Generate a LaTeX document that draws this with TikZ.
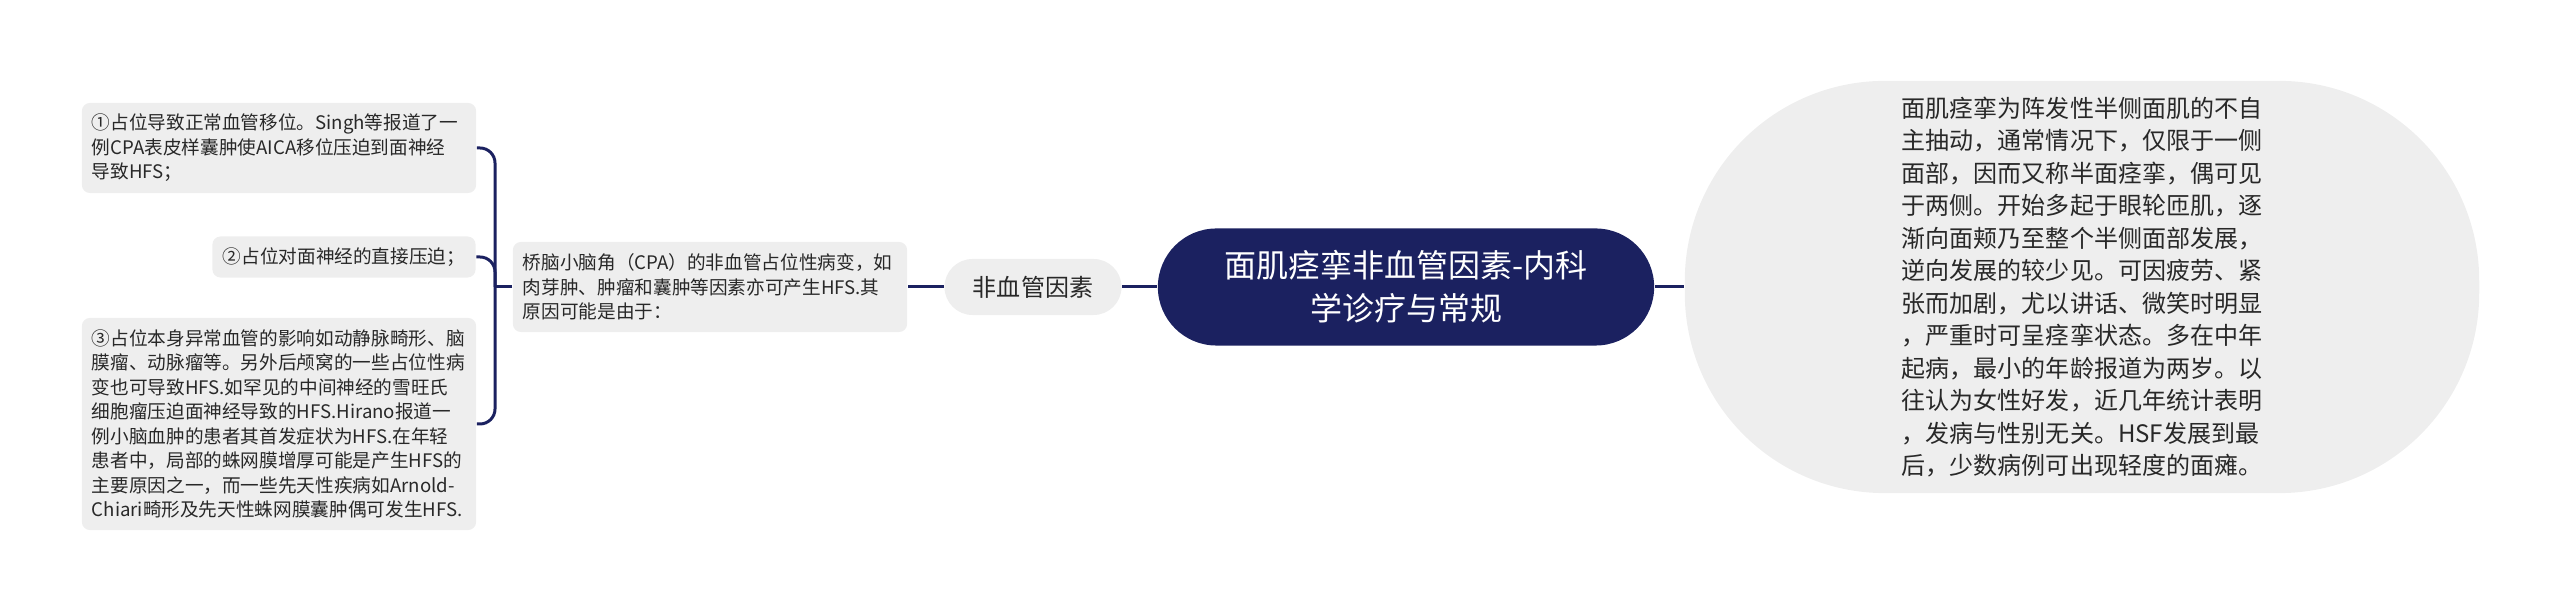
\documentclass[tikz,border=0pt]{standalone}
\usepackage{fontspec}
\setmainfont{Noto Sans CJK SC}
\usepackage{tikz}

\definecolor{navy}{RGB}{27,33,96}
\definecolor{boxgrey}{RGB}{238,238,238}
\definecolor{txtgrey}{RGB}{40,40,40}

\begin{document}
\begin{tikzpicture}[x=0.01cm, y=-0.01cm,
    leaf/.style={fill=boxgrey, rounded corners=0.08cm, text=txtgrey, inner sep=0.1cm, align=left, font=\fontsize{5.3pt}{6.97pt}\selectfont},
    link/.style={draw=navy, line width=0.85pt}]
                \useasboundingbox (0,0) rectangle (2560,613);

                \node[fill=navy, text=white, rounded corners=0.585cm, minimum width=4.96cm, minimum height=1.17cm, align=center, font=\fontsize{9.1pt}{12.2pt}\selectfont] (R) at (1406, 287) {面肌痉挛非血管因素-内科\\学诊疗与常规};
                \node[fill=boxgrey, text=txtgrey, rounded corners=2cm, minimum width=7.94cm, minimum height=4.12cm, align=left, font=\fontsize{6.83pt}{9.25pt}\selectfont] (D) at (2082, 287) {面肌痉挛为阵发性半侧面肌的不自\\主抽动，通常情况下，仅限于一侧\\面部，因而又称半面痉挛，偶可见\\于两侧。开始多起于眼轮匝肌，逐\\渐向面颊乃至整个半侧面部发展，\\逆向发展的较少见。可因疲劳、紧\\张而加剧，尤以讲话、微笑时明显\\，严重时可呈痉挛状态。多在中年\\起病，最小的年龄报道为两岁。以\\往认为女性好发，近几年统计表明\\，发病与性别无关。HSF发展到最\\后，少数病例可出现轻度的面瘫。};
                \node[fill=boxgrey, text=txtgrey, rounded corners=0.28cm, minimum width=1.77cm, minimum height=0.56cm, font=\fontsize{6.83pt}{8.46pt}\selectfont] (F) at (1033, 287) {非血管因素};
                \node[leaf, text width=3.74cm, minimum height=0.9cm] (M) at (710, 287) {桥脑小脑角（CPA）的非血管占位性病变，如\\肉芽肿、肿瘤和囊肿等因素亦可产生HFS.其\\原因可能是由于：};

                \node[leaf, text width=3.74cm, minimum height=0.9cm] (L1) at (279, 148) {①占位导致正常血管移位。Singh等报道了一\\例CPA表皮样囊肿使AICA移位压迫到面神经\\导致HFS；};
                \node[leaf, minimum width=2.63cm, minimum height=0.41cm] (L2) at (344, 257) {②占位对面神经的直接压迫；};
                \node[leaf, text width=3.74cm, minimum height=2.12cm] (L3) at (279, 424) {③占位本身异常血管的影响如动静脉畸形、脑\\膜瘤、动脉瘤等。另外后颅窝的一些占位性病\\变也可导致HFS.如罕见的中间神经的雪旺氏\\细胞瘤压迫面神经导致的HFS.Hirano报道一\\例小脑血肿的患者其首发症状为HFS.在年轻\\患者中，局部的蛛网膜增厚可能是产生HFS的\\主要原因之一，而一些先天性疾病如Arnold-\\Chiari畸形及先天性蛛网膜囊肿偶可发生HFS.};

                \coordinate (J) at (495, 287);

                \draw[link] (R.east) -- (D.west);
                \draw[link] (R.west) -- (F.east);
                \draw[link] (F.west) -- (M.east);
                \draw[link] (M.west) -- (J);
                \draw[link, rounded corners=0.15cm] (L1.east) -| (J) |- (L3.east);
                \draw[link, rounded corners=0.15cm] (L2.east) -| (J);

            \end{tikzpicture}
\end{document}
